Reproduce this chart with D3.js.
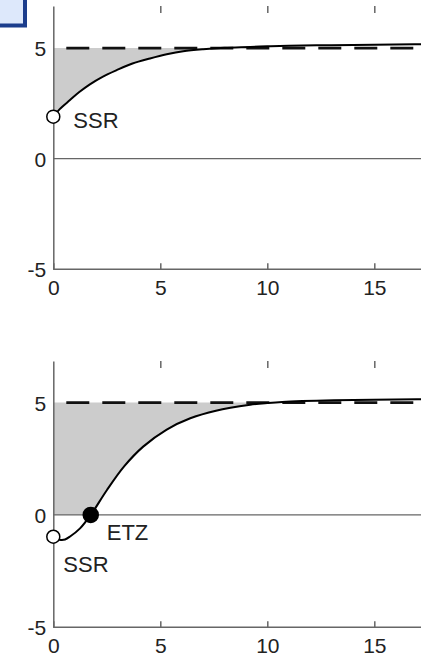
<!DOCTYPE html>
<html>
<head>
<meta charset="utf-8">
<script src="https://cdn.jsdelivr.net/npm/d3@7"></script>
<style>
  body { margin: 0; background: #fff; }
  svg { display: block; font-family: "Liberation Sans", Arial, sans-serif; }
</style>
</head>
<body>
<div id="chart"></div>
<script>
// data
const topT = [0, 0.3, 0.78, 1.2, 1.71, 2.3, 2.96, 3.7, 4.52, 5.3, 6.07, 7.0, 8.0, 9.2, 10, 11, 13, 15, 17, 19];
const topY = [1.9, 2.24, 2.65, 3.0, 3.36, 3.7, 4.0, 4.3, 4.53, 4.72, 4.86, 4.95, 5.01, 5.05, 5.08, 5.1, 5.13, 5.15, 5.17, 5.17];

const botT = [0, 0.3, 0.55, 0.8, 1.25, 1.75, 2.5, 3.3, 4.2, 5.3, 6.4, 7.6, 9.2, 10, 10.7, 13.1, 17, 19];
const botY = [-0.97, -1.1, -1.09, -0.95, -0.6, 0, 1.1, 2.15, 3.04, 3.8, 4.3, 4.64, 4.9, 4.98, 5.03, 5.1, 5.15, 5.15];

const xTicks = [0, 5, 10, 15];
const yTicks = [-5, 0, 5];
const steadyLevel = 5;

const W = 421, H = 657;

const svg = d3.select("#chart").append("svg")
    .attr("width", W)
    .attr("height", H);

// little blue box in the corner
svg.append("rect")
    .attr("x", -10).attr("y", -10)
    .attr("width", 35).attr("height", 35.5)
    .attr("fill", "#dde8fb")
    .attr("stroke", "#1b3d8c")
    .attr("stroke-width", 4);

const x = d3.scaleLinear().domain([0, 20]).range([53.3, 53.3 + 20 * 21.4]);

function panel(top, bottom, yMax, ts, ys, marks) {
    const y = d3.scaleLinear().domain([-5, yMax]).range([bottom, top]);
    const g = svg.append("g");
    const data = ts.map((t, i) => ({ t, v: ys[i] }));

    // grey area between curve and steady level
    g.append("path")
        .datum(data)
        .attr("fill", "#cccccc")
        .attr("d", d3.area()
            .curve(d3.curveCatmullRom)
            .x(d => x(d.t))
            .y0(d => y(Math.max(0, Math.min(d.v, steadyLevel))))
            .y1(y(steadyLevel)));

    // zero line
    g.append("line")
        .attr("x1", x(0)).attr("x2", W)
        .attr("y1", y(0)).attr("y2", y(0))
        .attr("stroke", "#666").attr("stroke-width", 1.3);

    // dashed steady level
    g.append("line")
        .attr("x1", x(0)).attr("x2", W)
        .attr("y1", y(steadyLevel)).attr("y2", y(steadyLevel))
        .attr("stroke", "#111").attr("stroke-width", 2.8)
        .attr("stroke-dasharray", "23,13")
        .attr("stroke-dashoffset", 23);

    // bottom axis
    const xAxis = g.append("g")
        .attr("transform", `translate(0,${bottom})`)
        .call(d3.axisBottom(x).tickValues(xTicks).tickSize(-6).tickPadding(11)
            .tickFormat(d => String(d)));
    xAxis.select(".domain").remove();
    xAxis.append("line")
        .attr("x1", x(0)).attr("x2", W)
        .attr("stroke", "#666").attr("stroke-width", 1.5);

    // top ticks only, no line
    const topAxis = g.append("g")
        .attr("transform", `translate(0,${top})`)
        .call(d3.axisTop(x).tickValues(xTicks.filter(d => d > 0)).tickSize(-7).tickFormat(""));
    topAxis.select(".domain").remove();

    // left axis
    const yAxis = g.append("g")
        .attr("transform", `translate(${x(0)},0)`)
        .call(d3.axisLeft(y).tickValues(yTicks).tickSize(0).tickPadding(7)
            .tickFormat(d => String(d)));
    yAxis.select(".domain")
        .attr("stroke", "#666").attr("stroke-width", 1.5);

    g.selectAll(".tick line").attr("stroke", "#666").attr("stroke-width", 1.5);
    g.selectAll(".tick text")
        .attr("fill", "#222")
        .style("font-size", "21px");
    yAxis.selectAll(".tick text").attr("dy", "0.36em");

    // curve
    g.append("path")
        .datum(data)
        .attr("fill", "none")
        .attr("stroke", "#000")
        .attr("stroke-width", 2)
        .attr("d", d3.line()
            .curve(d3.curveCatmullRom)
            .x(d => x(d.t))
            .y(d => y(d.v)));

    marks.forEach(m => {
        g.append("circle")
            .attr("cx", x(m.t)).attr("cy", y(m.v))
            .attr("r", m.filled ? 7.5 : 6.5)
            .attr("fill", m.filled ? "#000" : "#fff")
            .attr("stroke", "#000")
            .attr("stroke-width", 1.5);
        g.append("text")
            .attr("x", x(m.t) + m.dx)
            .attr("y", y(m.v) + m.dy)
            .attr("fill", "#222")
            .style("font-size", "22px")
            .text(m.label);
    });
}

panel(6, 269.3, 6.9, topT, topY, [
    { t: 0, v: topY[0], filled: false, label: "SSR", dx: 20, dy: 11 }
]);

panel(361, 627.3, 6.85, botT, botY, [
    { t: 0, v: botY[0], filled: false, label: "SSR", dx: 10, dy: 35 },
    { t: 1.75, v: 0, filled: true, label: "ETZ", dx: 16, dy: 25 }
]);
</script>
</body>
</html>
